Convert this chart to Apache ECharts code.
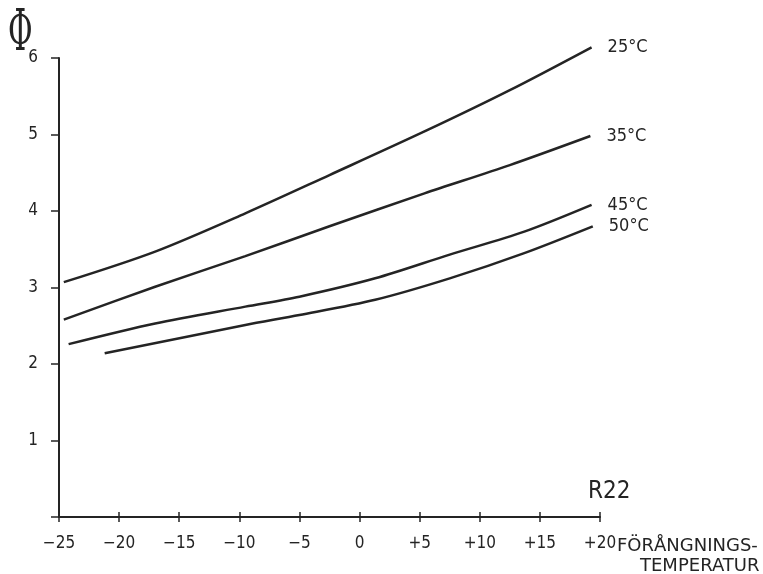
<!DOCTYPE html>
<html>
<head>
<meta charset="utf-8">
<script src="https://cdn.jsdelivr.net/npm/echarts@6/dist/echarts.min.js"></script>
<style>
html,body{margin:0;padding:0;background:#fff;}
#chart{width:763px;height:574px;}
</style>
</head>
<body>
<div id="chart"></div>
<script>
// Evaporation temperature (°C) sample points and Φ values per condensing temperature
var seriesNames = ['25°C', '35°C', '45°C', '50°C'];
var temp25 = [-24.6, -17.0, -9.5, -2.5, 5.4, 12.5, 19.3];
var phi25  = [3.07, 3.47, 3.97, 4.47, 5.04, 5.58, 6.14];
var temp35 = [-24.6, -17.0, -9.5, -2.5, 5.4, 12.5, 19.2];
var phi35  = [2.58, 3.01, 3.41, 3.80, 4.23, 4.60, 4.98];
var temp45 = [-24.2, -17.0, -9.5, -5.0, 1.3, 7.5, 13.7, 19.3];
var phi45  = [2.26, 2.53, 2.75, 2.88, 3.12, 3.43, 3.73, 4.08];
var temp50 = [-21.2, -9.5, -5.0, 1.3, 7.5, 13.7, 19.4];
var phi50  = [2.14, 2.51, 2.64, 2.84, 3.12, 3.45, 3.80];
var yTicks = [1, 2, 3, 4, 5, 6];
var xTicks = [-25, -20, -15, -10, -5, 0, 5, 10, 15, 20];

function pairs(xs, ys) { return xs.map(function (x, i) { return [x, ys[i]]; }); }
var allX = [temp25, temp35, temp45, temp50];
var allY = [phi25, phi35, phi45, phi50];

var ink = '#242424';
var font = "'DejaVu Sans Condensed', 'DejaVu Sans', sans-serif";
var wide = "'DejaVu Sans', sans-serif";

var chart = echarts.init(document.getElementById('chart'), null, {renderer: 'canvas'});
chart.setOption({
  backgroundColor: '#ffffff',
  animation: false,
  grid: {left: 59, right: 163, top: 58, bottom: 57},
  xAxis: [{
    type: 'value', min: -25, max: 20, interval: 5,
    axisLine: {onZero: false, lineStyle: {color: ink, width: 2}},
    axisTick: {show: true, length: 5, lineStyle: {color: ink, width: 1.5}},
    splitLine: {show: false},
    axisLabel: {
      color: ink, fontSize: 17, fontFamily: font, margin: 18,
      formatter: function (v) { return xTicks.indexOf(v) < 0 ? '' : (v > 0 ? '+' + v : (v < 0 ? '\u2212' + Math.abs(v) : '0')); }
    }
  }, {
    type: 'value', min: -25, max: 20, interval: 5, position: 'bottom',
    axisLine: {show: false, onZero: false},
    axisTick: {show: true, inside: true, length: 5, lineStyle: {color: ink, width: 1.5}},
    axisLabel: {show: false}, splitLine: {show: false}
  }],
  yAxis: {
    type: 'value', min: 0, max: 6, interval: 1,
    axisLine: {show: true, onZero: false, lineStyle: {color: ink, width: 2}},
    axisTick: {show: true, length: 8, lineStyle: {color: ink, width: 1.5}},
    splitLine: {show: false},
    axisLabel: {
      color: ink, fontSize: 17, fontFamily: font, margin: 21,
      formatter: function (v) { return yTicks.indexOf(v) >= 0 ? String(v) : ''; }
    }
  },
  series: seriesNames.map(function (name, i) {
    return {
      name: name, type: 'line', smooth: 0.3, symbol: 'none', clip: false,
      data: pairs(allX[i], allY[i]),
      lineStyle: {color: ink, width: 2.5},
      endLabel: {show: true, formatter: '{a}', distance: 16, color: ink, fontSize: 18, fontFamily: font}
    };
  }),
  graphic: [
    {type: 'text', x: 8, y: 6, scaleY: 1.94, style: {text: '\u03A6', font: "30px 'DejaVu Serif', serif", fill: ink}},
    {type: 'text', left: 588, top: 480, style: {text: 'R22', font: "24px " + font, fill: ink}},
    {type: 'text', left: 617, top: 537, style: {text: 'FÖRÅNGNINGS-', font: "18px " + wide, fill: ink}},
    {type: 'text', left: 640, top: 557, style: {text: 'TEMPERATUR', font: "18px " + wide, fill: ink}}
  ]
});
</script>
</body>
</html>
